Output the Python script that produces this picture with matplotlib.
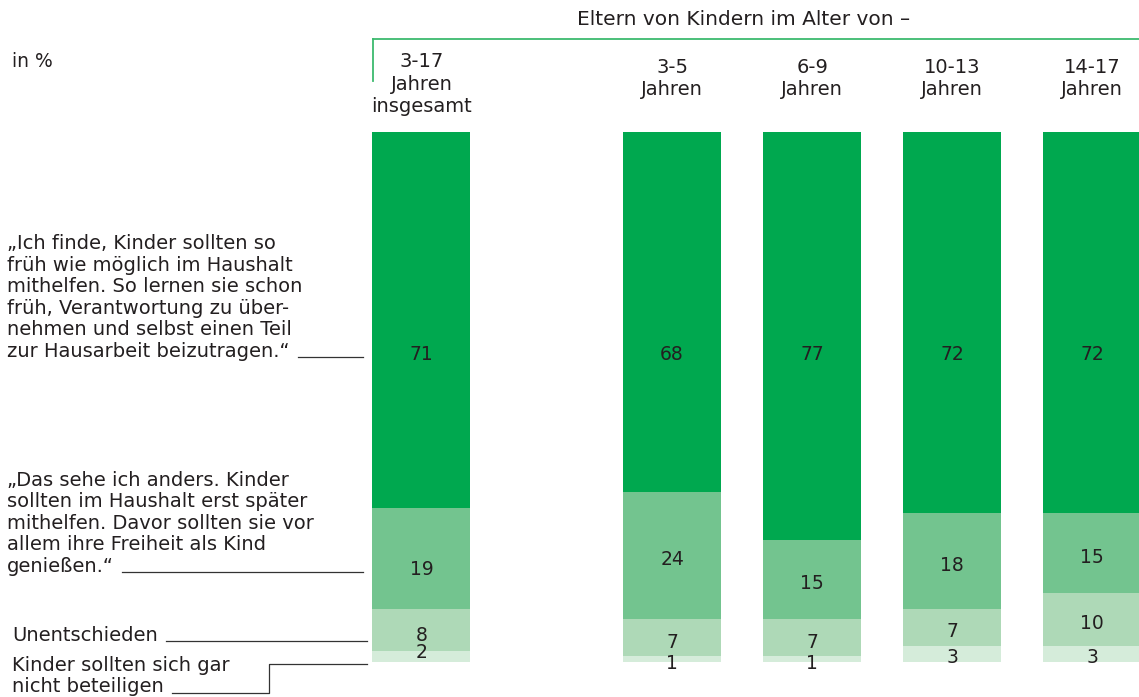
import numpy as np
import matplotlib.pyplot as plt
import matplotlib.transforms as mtransforms

W, H = 1139, 697

# Anteile in % (von unten nach oben gestapelt)
gruppen = ['3-17\nJahren\ninsgesamt', '3-5\nJahren', '6-9\nJahren', '10-13\nJahren', '14-17\nJahren']
gar_nicht = [2, 1, 1, 3, 3]
unentschieden = [8, 7, 7, 7, 10]
spaeter = [19, 24, 15, 18, 15]
so_frueh = [71, 68, 77, 72, 72]

antworten = [
    'Kinder sollten sich gar\nnicht beteiligen',
    'Unentschieden',
    '„Das sehe ich anders. Kinder\nsollten im Haushalt erst später\nmithelfen. Davor sollten sie vor\nallem ihre Freiheit als Kind\ngenießen.“',
    '„Ich finde, Kinder sollten so\nfrüh wie möglich im Haushalt\nmithelfen. So lernen sie schon\nfrüh, Verantwortung zu über-\nnehmen und selbst einen Teil\nzur Hausarbeit beizutragen.“',
]
farben = ['#d5ecda', '#aed9b7', '#73c48f', '#00a84f']
textfarbe = '#231f20'

plt.rcParams['font.family'] = ['DejaVu Sans']

fig = plt.figure(figsize=(W / 100, H / 100), dpi=100)
ax = fig.add_axes([0, (H - 661.5) / H, 1, 529.5 / H])
pos = np.array([0, 1.79, 2.79, 3.79, 4.79])
ax.set_xlim(-421.5 / 140, (W - 421.5) / 140)
ax.set_ylim(0, 100)
ax.axis('off')

# Pixel-Koordinaten (y von oben)
pix = mtransforms.Affine2D().scale(1, -1).translate(0, H)
x_data_y_pix = mtransforms.blended_transform_factory(ax.transData, pix)

segmente = [gar_nicht, unentschieden, spaeter, so_frueh]
unten = np.zeros(len(pos))
for k, (werte, farbe) in enumerate(zip(segmente, farben)):
    werte = np.array(werte, dtype=float)
    ax.bar(pos, werte, width=0.7, bottom=unten, color=farbe, linewidth=0)
    for i, (p, v, b) in enumerate(zip(pos, werte, unten)):
        if k == 3:
            y = 58.45
        elif i == 0:
            y = [2.0, 5.2, 17.8][k]
        else:
            y = b + v / 2 - 0.45
        ax.text(p, y, f'{v:.0f}', ha='center', va='center_baseline',
                fontsize=13.5, color=textfarbe)
    unten += werte

# Spaltenköpfe (Grundlinie der letzten Zeile)
for i, (p, g) in enumerate(zip(pos, gruppen)):
    ax.text(p, 112 if i == 0 else 95, g, transform=x_data_y_pix, ha='center',
            va='baseline', fontsize=14, linespacing=1.22, color=textfarbe)

fig.text(744, 25, 'Eltern von Kindern im Alter von –', transform=pix,
         ha='center', va='baseline', fontsize=14.5, color=textfarbe)
fig.text(12, 67, 'in %', transform=pix, ha='left', va='baseline',
         fontsize=13.5, color=textfarbe)

# grüne Klammer
gruen = '#3dba6e'
ax.plot([373, W + 5], [38.5, 38.5], transform=pix, color=gruen, lw=1.3, clip_on=False)
ax.plot([373, 373], [38.5, 81], transform=pix, color=gruen, lw=1.3, clip_on=False)

# Beschriftungen links mit Führungslinien
renderer = fig.canvas.get_renderer()
text_x = [12, 12, 7, 7]
text_y = [692.5, 641, 572, 357]
linie_y = [663.5, 641, 572, 357]
linie_ende = [367, 367, 363, 363]
for txt, tx, ty, ly, le in zip(antworten, text_x, text_y, linie_y, linie_ende):
    fig.text(tx, ty, txt, transform=pix, ha='left', va='baseline',
             fontsize=14, linespacing=1.17, color=textfarbe)
    zeilen = txt.split('\n')
    probe = fig.text(tx, 0, zeilen[-1], transform=pix, fontsize=14)
    ende = probe.get_window_extent(renderer).x1
    probe.remove()
    start = ende + 8
    if len(zeilen) == 2:
        ax.plot([start, 269, 269, le], [ty, ty, ly, ly], transform=pix,
                color='#333333', lw=0.9, clip_on=False)
    else:
        ax.plot([start, le], [ly, ly], transform=pix, color='#333333', lw=0.9,
                clip_on=False)

fig.savefig('out.png', dpi=100)
